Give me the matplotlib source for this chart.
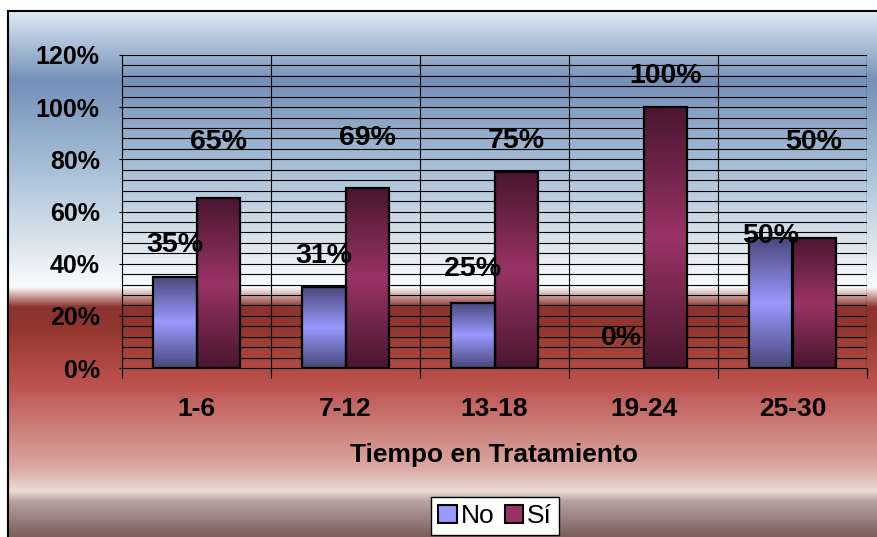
"""Tiempo en tratamiento: share of No / Sí per period, clustered bars."""
import numpy as np
import matplotlib

matplotlib.use("Agg")
import matplotlib.pyplot as plt
from matplotlib.colors import LinearSegmentedColormap

plt.rcParams["font.family"] = ["Liberation Sans", "DejaVu Sans"]

# ── data ──
categories = ["1-6", "7-12", "13-18", "19-24", "25-30"]
no_vals = [35, 31, 25, 0, 50]
si_vals = [65, 69, 75, 100, 50]
series_names = ["No", "Sí"]
# where the value labels sit (in % on the y axis)
no_label_y = [47, 43, 38, 11.5, 50.5]
si_label_y = [86.5, 88, 87, 112, 86.5]

W, H = 877, 537
fig = plt.figure(figsize=(W / 100, H / 100), dpi=100)

# ── chart-area background (sky blue over dark red) ──
bg = fig.add_axes([0, 0, 1, 1], zorder=-10)
bg.set_xlim(0, W)
bg.set_ylim(H, 0)
bg.axis("off")
top, bot = 11, H
stops = [
    (11, "#dde9f3"), (80, "#7590b8"), (170, "#a9c1d7"), (250, "#dfe8f0"),
    (287, "#fbfcfd"), (293, "#dcc0be"), (307, "#8c332f"), (330, "#93372f"),
    (385, "#bd524e"), (430, "#cc807b"), (470, "#dbaaa5"), (492, "#ebdcd6"),
    (502, "#b8a39e"), (537, "#7b605c"),
]
bg_cmap = LinearSegmentedColormap.from_list(
    "bg", [((y - top) / (bot - top), c) for y, c in stops])
bg.imshow(np.linspace(0, 1, 512).reshape(-1, 1), cmap=bg_cmap, aspect="auto",
          extent=[8, W, bot, top], interpolation="bilinear")
bg.plot([8, 8], [top, H], color="black", lw=1.5)
bg.plot([8, W], [top, top], color="black", lw=1.5)

# ── bars ──
ax = fig.add_axes([122 / W, 1 - 368 / H, 745 / W, 313 / H])
ax.patch.set_alpha(0)
x = np.arange(len(categories))
bw = 0.29
no_bars = ax.bar(x - bw / 2, no_vals, bw, facecolor="none", edgecolor="black",
                 lw=1.6, zorder=4)
si_bars = ax.bar(x + bw / 2, si_vals, bw, facecolor="none", edgecolor="black",
                 lw=1.6, zorder=4)

no_cmap = LinearSegmentedColormap.from_list("no", ["#48487a", "#9999ff", "#48487a"])
si_cmap = LinearSegmentedColormap.from_list("si", ["#4a1631", "#993366", "#4a1631"])
grad = np.linspace(0, 1, 256).reshape(-1, 1)
for bars, cmap in ((no_bars, no_cmap), (si_bars, si_cmap)):
    for p in bars:
        if p.get_height() <= 0:
            p.set_visible(False)   # 0 % bar: nothing to draw
            continue
        x0, y0 = p.get_x(), p.get_y()
        im = ax.imshow(grad, cmap=cmap, aspect="auto", zorder=3,
                       extent=[x0, x0 + p.get_width(), y0, y0 + p.get_height()])
        im.set_clip_path(p)

ax.set_xlim(-0.5, len(categories) - 0.5)
ax.set_ylim(0, 120)

# grid: every 4 %, plus category separators
for yv in np.arange(4, 121, 4):
    ax.axhline(yv, color="black", lw=0.8, zorder=1)
for xv in np.arange(0.5, len(categories), 1):
    ax.axvline(xv, color="black", lw=0.8, zorder=1)
ax.axvline(len(categories) - 0.5, color="black", lw=0.8, zorder=1)

for s in ("top", "right"):
    ax.spines[s].set_visible(False)
ax.spines["left"].set_linewidth(0.8)
ax.spines["bottom"].set_linewidth(0.8)

ax.set_yticks(np.arange(0, 121, 20))
ax.set_yticklabels([f"{v}%" for v in range(0, 121, 20)], fontsize=18,
                   fontweight="bold")
ax.tick_params(axis="y", length=2, width=0.8, pad=14)

ax.set_xticks(x)
ax.set_xticklabels(categories, fontsize=19, fontweight="bold")
ax.set_xticks(np.arange(-0.5, len(categories), 1), minor=True)
ax.tick_params(axis="x", which="major", length=0, pad=21)
ax.tick_params(axis="x", which="minor", length=7, width=0.8)
ax.set_xlabel("Tiempo en Tratamiento", fontsize=19, fontweight="bold",
              labelpad=16)

# value labels
for i in range(len(categories)):
    ax.text(x[i] - bw / 2, no_label_y[i], f"{no_vals[i]}%", ha="center",
            va="center", fontsize=20.5, fontweight="bold", zorder=6)
    ax.text(x[i] + bw / 2, si_label_y[i], f"{si_vals[i]}%", ha="center",
            va="center", fontsize=20.5, fontweight="bold", zorder=6)

# legend
handles = [
    plt.Rectangle((0, 0), 1, 1, facecolor="#9999ff", edgecolor="black", lw=1.5),
    plt.Rectangle((0, 0), 1, 1, facecolor="#993366", edgecolor="black", lw=1.5),
]
leg = fig.legend(handles, series_names, loc="center",
                 bbox_to_anchor=(495 / W, 1 - 516 / H), ncol=2, fontsize=19,
                 frameon=True, fancybox=False, edgecolor="black",
                 handlelength=0.7, handleheight=0.7, handletextpad=0.15,
                 columnspacing=0.4, borderpad=0.25, borderaxespad=0)
leg.get_frame().set_linewidth(1.0)
leg.get_frame().set_facecolor("white")
leg.get_frame().set_alpha(1)

fig.savefig("out.png", dpi=100)
